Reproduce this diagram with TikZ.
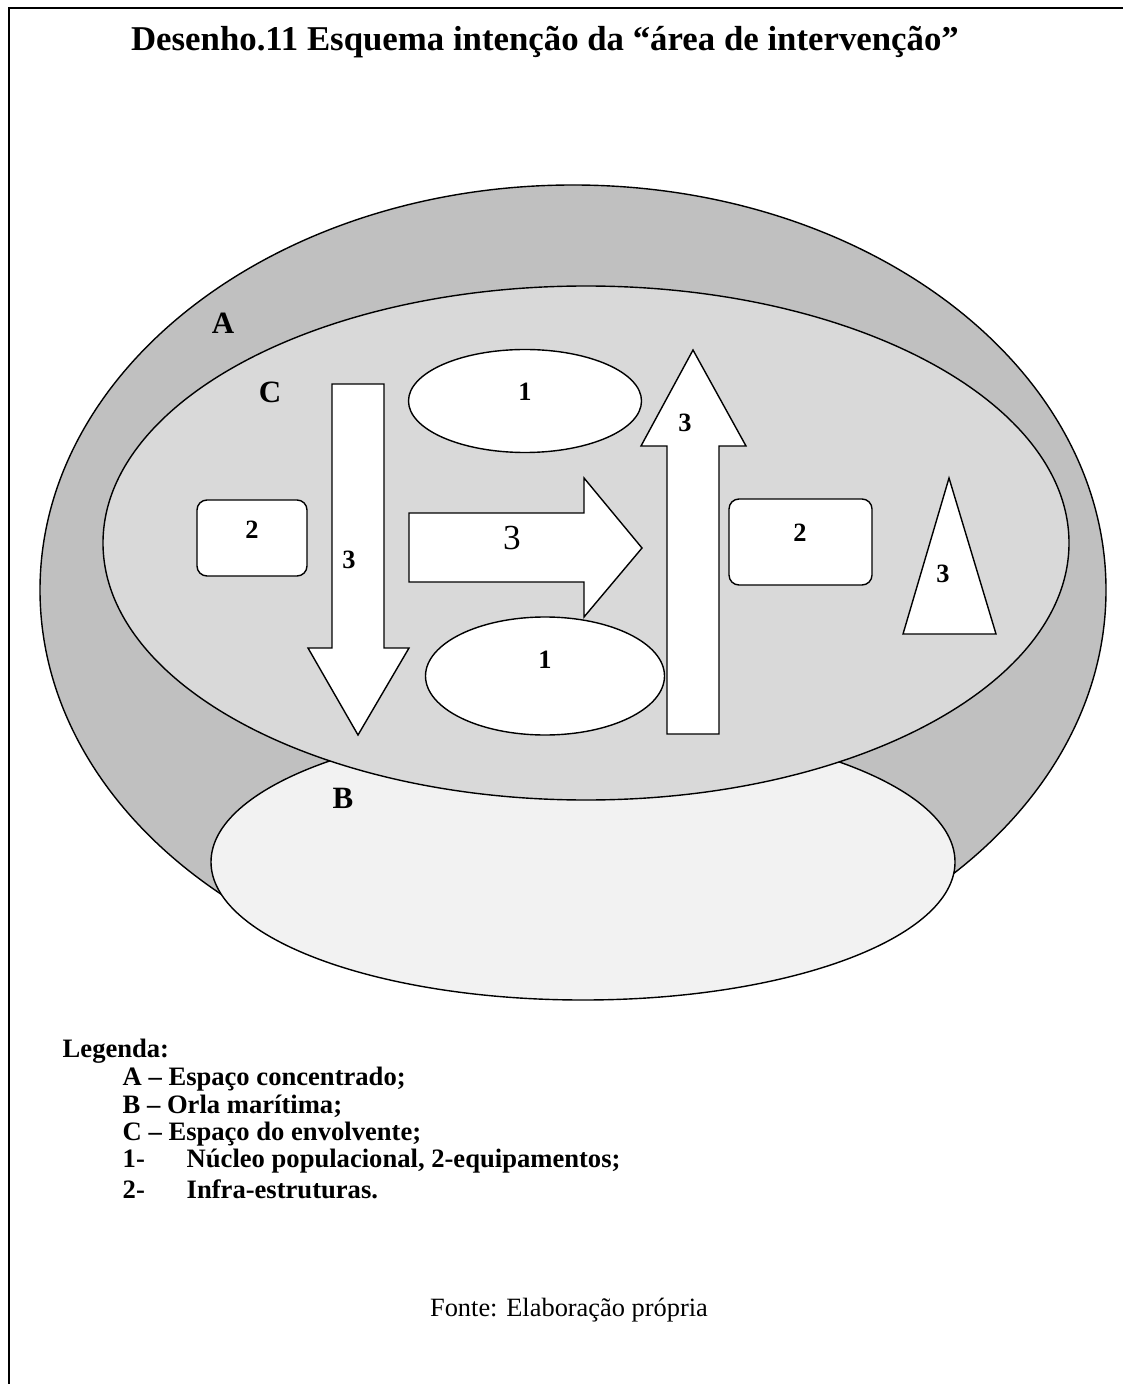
\documentclass[tikz,border=0pt]{standalone}
\usepackage{fontspec}
\setmainfont{Liberation Serif}
\usetikzlibrary{shapes.geometric}
\definecolor{zonaA}{HTML}{C0C0C0}
\definecolor{zonaB}{HTML}{F2F2F2}
\definecolor{zonaC}{HTML}{D9D9D9}
\begin{document}
\begin{tikzpicture}
        [x=0.5pt,y=-0.5pt,line width=0.7pt,
         zone/.style={ellipse,draw,inner sep=0pt},
         nucleo/.style={ellipse,draw,fill=white,inner sep=0pt},
         equip/.style={rectangle,rounded corners=5pt,draw,fill=white,inner sep=0pt},
         infra/.style={draw,fill=white,line join=miter},
         num/.style={font=\bfseries\fontsize{13.2}{15}\selectfont},
         zlbl/.style={font=\bfseries\fontsize{15.5}{18}\selectfont},
         leg/.style={anchor=west,inner sep=0pt,font=\bfseries\fontsize{13.3}{15}\selectfont}]
        \useasboundingbox (0,0) rectangle (1123,1384);
        \draw[line width=1.2pt] (9,1384) -- (9,8) -- (1123,8);

        % titulo
        \node[font=\bfseries\fontsize{17.4}{20}\selectfont] (T) at (545,42)
            {Desenho.11 Esquema intenção da “área de intervenção”};

        % A, B, C
        \node[zone,fill=zonaA,minimum width=533pt,minimum height=405pt] (A) at (573,590) {};
        \node[zone,fill=zonaB,minimum width=372pt,minimum height=138pt] (B) at (583,862) {};
        \node[zone,fill=zonaC,minimum width=483pt,minimum height=257pt] (C) at (586,543) {};
        \node[zlbl] (LA) at (223,323)   {A};
        \node[zlbl] (LC) at (270,392)   {C};
        \node[zlbl] (LB) at (343,798)   {B};

        % 1 e 2
        \node[nucleo,minimum width=116.5pt,minimum height=51.5pt] (N1) at (525,401) {};
        \node[nucleo,minimum width=119.5pt,minimum height=59pt]   (N2) at (545,676) {};
        \node[equip,minimum width=55pt,minimum height=38pt]       (E1) at (252,538) {};
        \node[equip,minimum width=71.5pt,minimum height=43pt]     (E2) at (800.5,542) {};

        % 3
        \draw[infra] (332,384) -- (384,384) -- (384,648) -- (409,648) -- (358,735)
            -- (308,648) -- (332,648) -- cycle;
        \draw[infra] (409,513) -- (584,513) -- (584,478) -- (642,548) -- (584,617)
            -- (584,582) -- (409,582) -- cycle;
        \draw[infra] (667,734) -- (667,446) -- (641,446) -- (693,350) -- (746,446)
            -- (719,446) -- (719,734) -- cycle;
        \draw[infra] (949,478) -- (996,634) -- (903,634) -- cycle;

        \node[num] (L1a) at (525,392)   {1};
        \node[num] (L1b) at (545,660)   {1};
        \node[num] (L2a) at (252,530)   {2};
        \node[num] (L2b) at (800,533)   {2};
        \node[num] (L3a) at (349,560)   {3};
        \node[num] (L3b) at (685,423)   {3};
        \node[num] (L3c) at (943,574)   {3};
        \node[font=\fontsize{17.6}{20}\selectfont] (L3d) at (512,538) {3};

        % legenda
        \node[leg] (Leg) at (62,1051)   {Legenda:};
        \node[leg] (LgA) at (122,1079)  {A – Espaço concentrado;};
        \node[leg] (LgB) at (122,1106)  {B – Orla marítima;};
        \node[leg] (LgC) at (122,1134)  {C – Espaço do envolvente;};
        \node[leg] (Lg1) at (122,1161)  {\makebox[32pt][l]{1-}Núcleo populacional, 2-equipamentos;};
        \node[leg] (Lg2) at (122,1189)  {\makebox[32pt][l]{2-}Infra-estruturas.};
        \node[font=\fontsize{13.2}{15}\selectfont] (F) at (569,1310) {Fonte: Elaboração própria};
\end{tikzpicture}
\end{document}
